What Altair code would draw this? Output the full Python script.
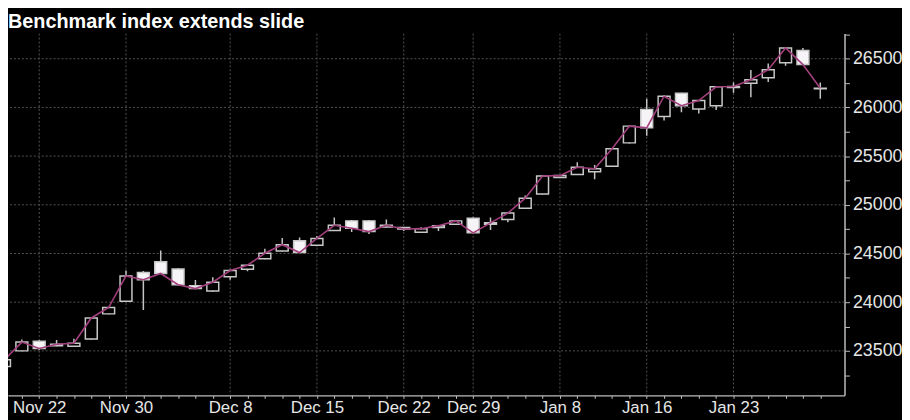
import json
import altair as alt
import pandas as pd

title_text = "Benchmark index extends slide"

days = ["Nov 20", "Nov 21", "Nov 22", "Nov 24", "Nov 27", "Nov 28", "Nov 29", "Nov 30",
        "Dec 1", "Dec 4", "Dec 5", "Dec 6", "Dec 7", "Dec 8", "Dec 11", "Dec 12", "Dec 13",
        "Dec 14", "Dec 15", "Dec 18", "Dec 19", "Dec 20", "Dec 21", "Dec 22", "Dec 26",
        "Dec 27", "Dec 28", "Dec 29", "Jan 2", "Jan 3", "Jan 4", "Jan 5", "Jan 8", "Jan 9",
        "Jan 10", "Jan 11", "Jan 12", "Jan 16", "Jan 17", "Jan 18", "Jan 19", "Jan 22",
        "Jan 23", "Jan 24", "Jan 25", "Jan 26", "Jan 29", "Jan 30"]

opens = [23340, 23500, 23600, 23552, 23548, 23622, 23880, 24010, 24305, 24415,
         24340, 24170, 24115, 24260, 24338, 24447, 24525, 24630, 24585, 24735,
         24835, 24835, 24772, 24766, 24718, 24768, 24800, 24862, 24800, 24850,
         24965, 25112, 25280, 25312, 25340, 25395, 25636, 25980, 25908, 26145,
         25985, 26018, 26205, 26248, 26305, 26460, 26585, 26193]
highs = [23430, 23616, 23610, 23612, 23625, 23845, 23950, 24325, 24320, 24530,
         24350, 24228, 24255, 24335, 24385, 24550, 24660, 24665, 24680, 24870,
         24845, 24845, 24848, 24770, 24770, 24790, 24840, 24870, 24870, 24925,
         25095, 25300, 25305, 25437, 25410, 25580, 25815, 26090, 26125, 26150,
         26075, 26218, 26255, 26385, 26450, 26615, 26610, 26255]
lows = [23320, 23495, 23510, 23548, 23540, 23615, 23875, 24005, 23920, 24290,
        24170, 24132, 24105, 24230, 24318, 24440, 24520, 24505, 24575, 24730,
        24722, 24700, 24768, 24730, 24712, 24732, 24795, 24705, 24742, 24820,
        24960, 25105, 25275, 25305, 25262, 25390, 25630, 25710, 25865, 25950,
        25937, 25973, 26150, 26105, 26262, 26427, 26437, 26090]
closes = [23410, 23590, 23525, 23568, 23578, 23838, 23945, 24270, 24230, 24295,
          24180, 24140, 24205, 24325, 24380, 24502, 24590, 24510, 24655, 24790,
          24760, 24725, 24790, 24752, 24755, 24786, 24835, 24712, 24815, 24915,
          25068, 25295, 25300, 25385, 25370, 25575, 25808, 25790, 26115, 26018,
          26070, 26212, 26215, 26285, 26388, 26610, 26440, 26197]

x_labels = ["Nov 22", "Nov 30", "Dec 8", "Dec 15", "Dec 22", "Dec 29", "Jan 8", "Jan 16", "Jan 23"]
y_ticks = [23250, 23500, 23750, 24000, 24250, 24500, 24750, 25000, 25250,
           25500, 25750, 26000, 26250, 26500, 26750]
y_labels = [23500, 24000, 24500, 25000, 25500, 26000, 26500]

df = pd.DataFrame({
    "i": list(range(len(days))),
    "day": days,
    "open": opens,
    "high": highs,
    "low": lows,
    "close": closes,
})

label_idx = [days.index(d) for d in x_labels]
x_label_expr = "indexof({a}, datum.value) >= 0 ? {b}[indexof({a}, datum.value)] : ''".format(
    a=json.dumps(label_idx), b=json.dumps(x_labels))
y_label_expr = "indexof({a}, datum.value) >= 0 ? datum.label : ''".format(a=json.dumps(y_labels))

AXIS_COL = "#bdbdbd"
LABEL_COL = "#e6e6e6"
GRID_COL = "#525252"
FONT = "Liberation Sans"

x_scale = alt.Scale(domain=[0.487, 48.11], nice=False, zero=False)
x_axis = alt.Axis(values=list(range(len(days))), labelExpr=x_label_expr, grid=False,
                  domainColor=AXIS_COL, domainWidth=1.5, tickColor=AXIS_COL, tickSize=3,
                  tickWidth=1, labelColor=LABEL_COL, labelFontSize=17,
                  labelFont=FONT, labelPadding=1, labelOverlap=False,
                  labelFlush=False, title=None, orient="bottom")
y_scale = alt.Scale(domain=[23043, 26758], nice=False, zero=False)
y_axis = alt.Axis(orient="right", values=y_ticks, labelExpr=y_label_expr, format="d",
                  grid=False, domainColor=AXIS_COL, domainWidth=1.5, tickColor=AXIS_COL,
                  tickSize=5, tickWidth=1, labelColor=LABEL_COL, labelFontSize=18,
                  labelFont=FONT, labelPadding=3, labelOverlap=False,
                  labelFlush=False, title=None)


def X(field="i"):
    return alt.X(f"{field}:Q", scale=x_scale, axis=x_axis)


def Y(field):
    return alt.Y(f"{field}:Q", scale=y_scale, axis=y_axis)


vgrid = alt.Chart(pd.DataFrame({"i": label_idx})).mark_rule(
    color=GRID_COL, strokeDash=[2, 2], strokeWidth=1).encode(x=X())
hgrid = alt.Chart(pd.DataFrame({"v": y_labels})).mark_rule(
    color=GRID_COL, strokeDash=[2, 2], strokeWidth=1).encode(y=Y("v"))

base = alt.Chart(df)
wicks = base.mark_rule(color="#c4c4c4", strokeWidth=1.5, clip=True).encode(
    x=X(), y=Y("low"), y2="high:Q")
bodies = base.mark_bar(size=12, stroke="#c8c8c8", strokeWidth=1.5, clip=True).encode(
    x=X(), y=Y("open"), y2="close:Q",
    fill=alt.condition("datum.close < datum.open", alt.value("#f6f4f6"), alt.value("#000000")))
line = base.mark_line(color="#a33f7d", strokeWidth=1.6, clip=True).encode(
    x=X(), y=Y("close"))

title = alt.Chart(pd.DataFrame({"t": [title_text]})).mark_text(
    align="left", baseline="alphabetic", fontSize=20, fontWeight="bold",
    font=FONT, color="#ffffff").encode(
    x=alt.value(0), y=alt.value(-6), text="t:N")

chart = alt.layer(vgrid, hgrid, wicks, bodies, line, title).properties(
    width=844, height=365,
    autosize=alt.AutoSizeParams(type="none"),
    padding={"left": 0, "top": 24, "right": 58, "bottom": 23},
    background="#000000",
).configure_view(strokeWidth=0)

chart.save("out.html", embed_options={"renderer": "svg", "actions": False})
